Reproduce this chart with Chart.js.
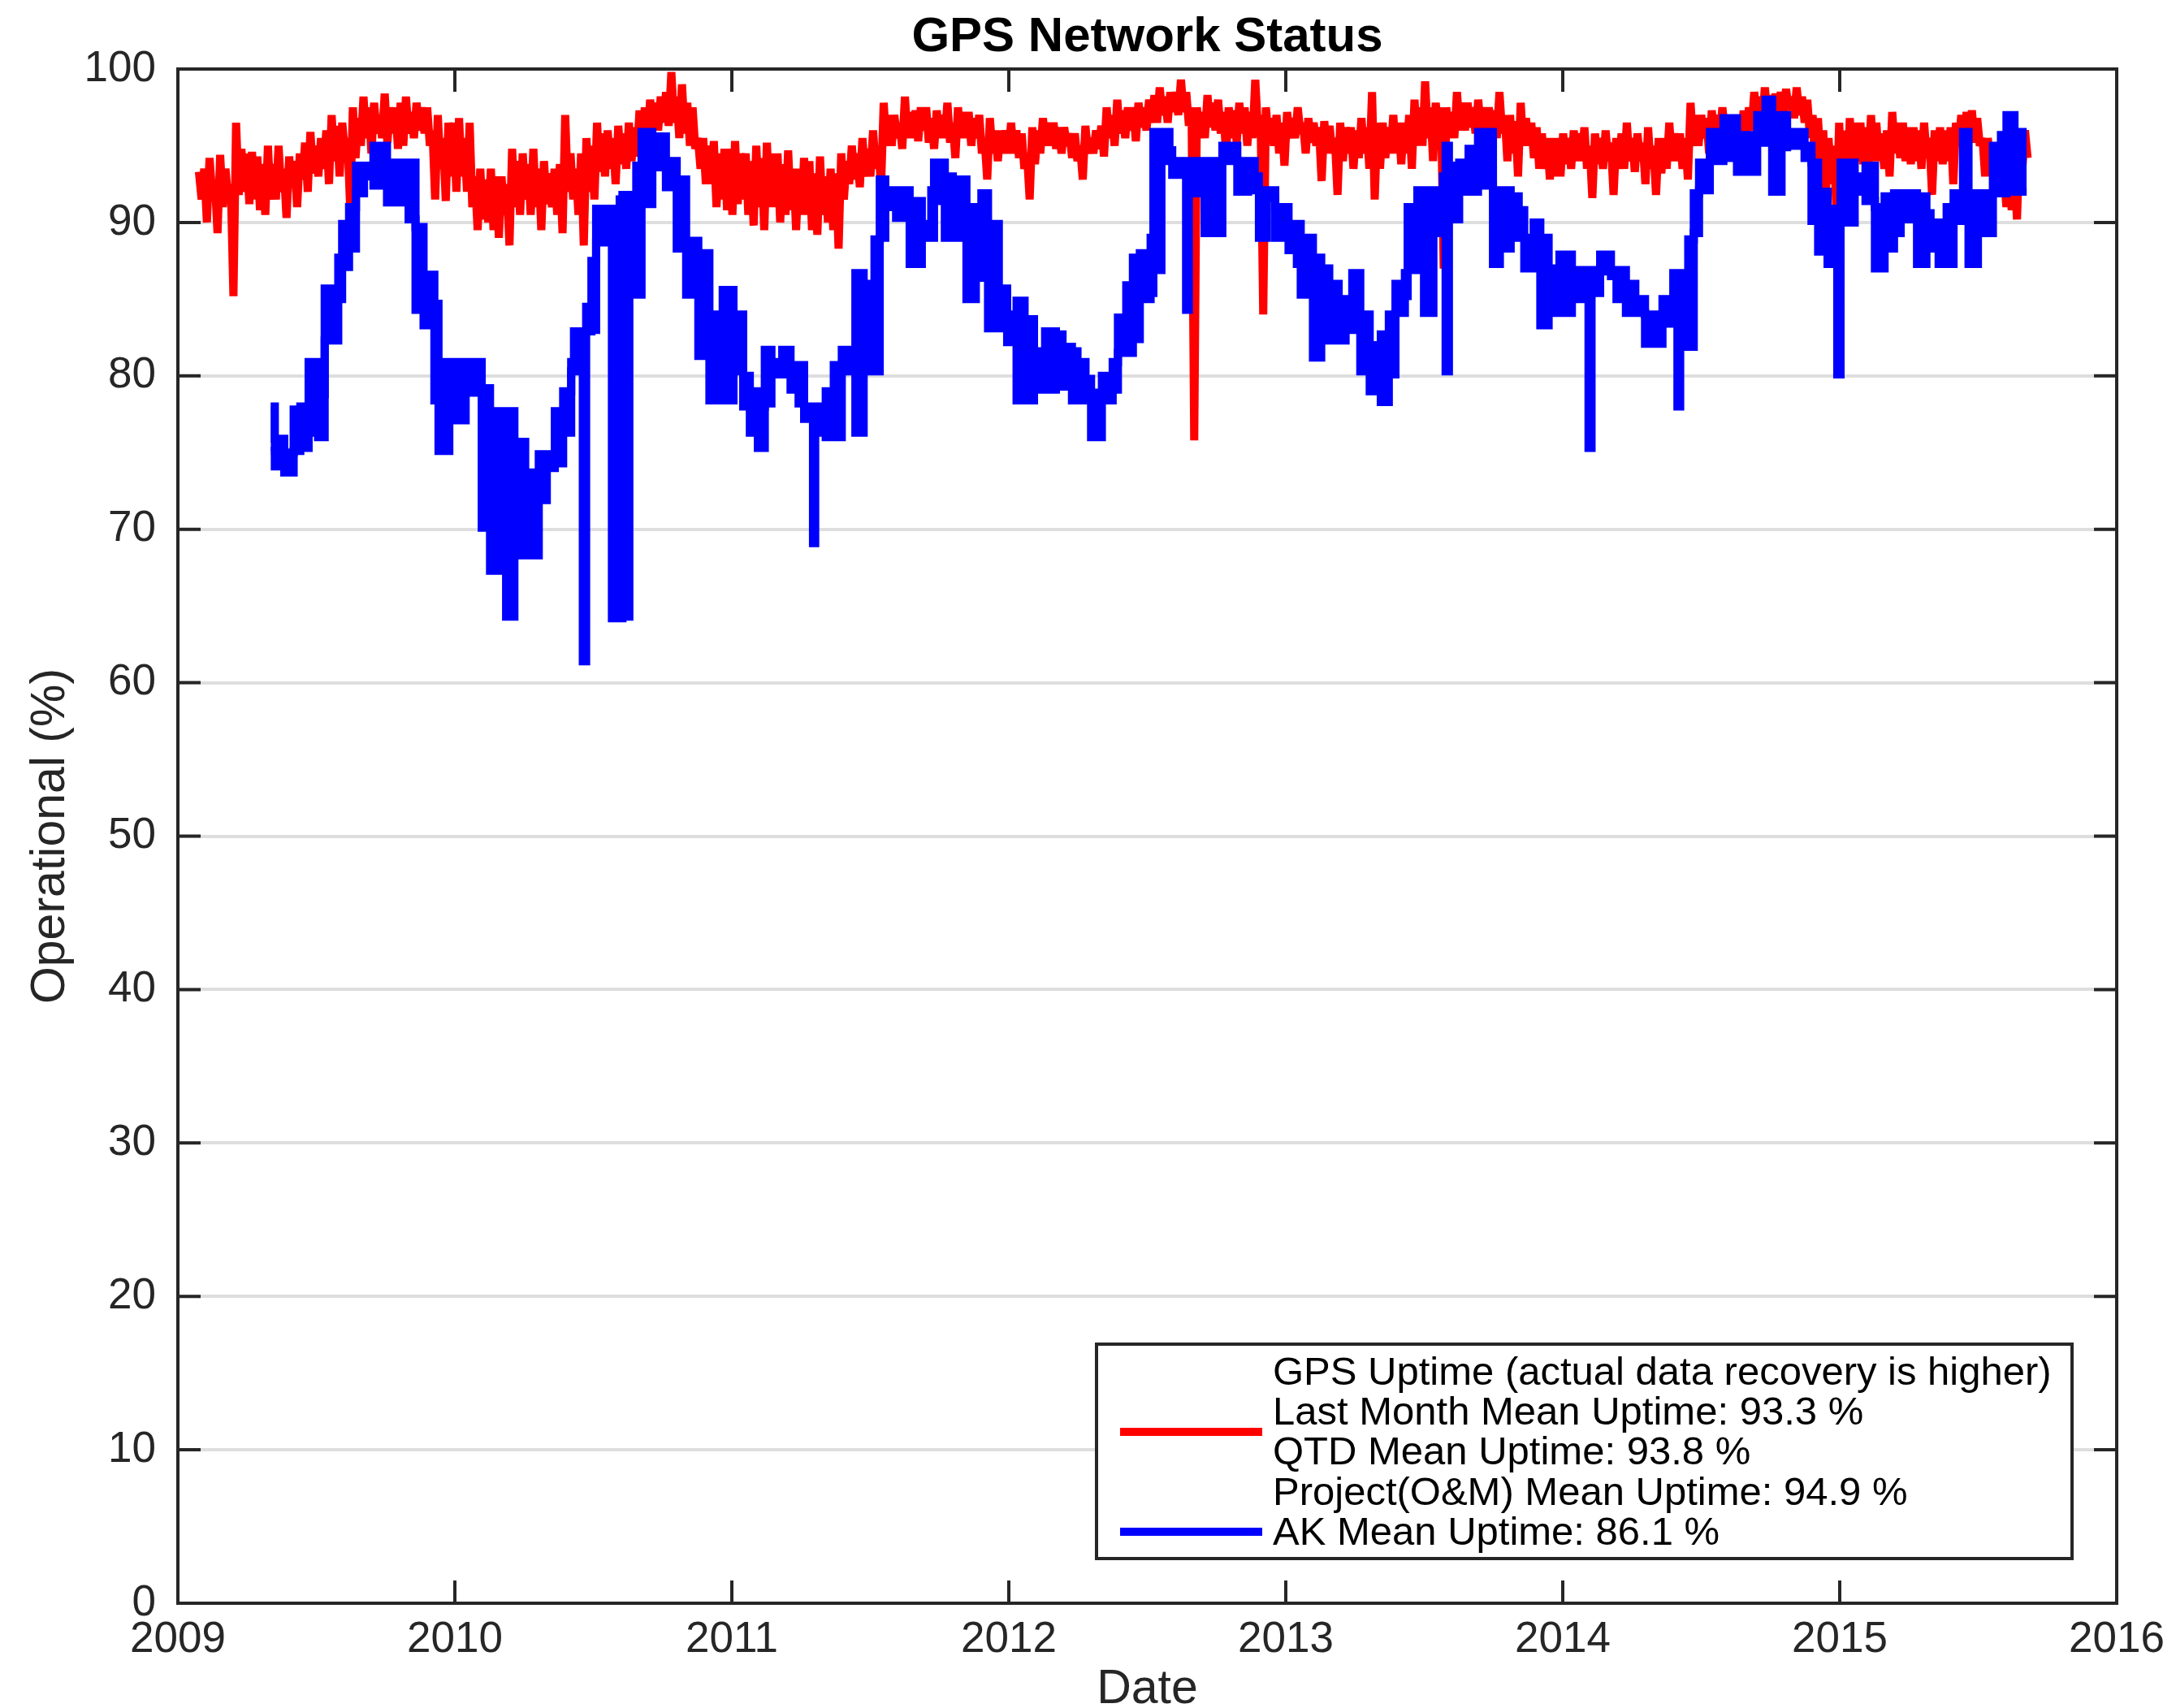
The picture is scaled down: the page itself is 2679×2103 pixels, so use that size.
<!DOCTYPE html>
<html>
<head>
<meta charset="utf-8">
<title>GPS Network Status</title>
<script src="https://cdn.jsdelivr.net/npm/chart.js@4.4.1/dist/chart.umd.min.js"></script>
<style>
  html, body { margin: 0; padding: 0; background: #ffffff; }
  canvas { display: block; }
</style>
</head>
<body>
<canvas id="gpsChart" width="2679" height="2103"></canvas>
<script>
// ---- Axis tick values ----
const yearTicks = [2009, 2010, 2011, 2012, 2013, 2014, 2015, 2016];
const uptimeTicks = [0, 10, 20, 30, 40, 50, 60, 70, 80, 90, 100];

// ---- Network-wide GPS uptime (%), one sample every 3.5 days from gpsStart ----
const gpsStart = 2009.076;          // decimal year of the first sample
const gpsStepDays = 3.5;
const gps2009 = [93.3, 91.5, 93.5, 90, 94.2, 91.8, 92.8, 89.3, 94.4, 91,
  93.5, 91.5, 92.5, 85.2, 96.5, 91.8, 94.8, 92, 94.5, 91.2,
  94.6, 91.5, 94.3, 90.8, 93.8, 90.5, 95, 91.5, 93.8, 91.5,
  95, 92, 93.5, 90.3, 94.3, 92.3, 94, 91, 94.5, 92.8,
  95.2, 92, 95.9, 93.2, 95, 93, 95.5, 93.5, 96, 92.5,
  97, 94, 96.3, 93, 96.5, 94.5, 95.5, 90.8, 97.5, 94.2,
  96.8, 95, 98.2, 95.5, 97.5, 94.5, 97.8, 95.8, 97, 95.5,
  98.4, 95.2, 97.5, 95.8, 97.5, 94.8, 97.8, 95, 98.2, 95.8,
  97.2, 95.5, 97.8, 96, 97.5, 95.8, 97.5, 95, 96, 91.5,
  97, 93.5, 95.5, 91.4, 96.5, 93];
const gps2010 = [96.5, 92, 96.8, 93, 95.5, 92, 96.5, 91, 93, 89.5,
  93.5, 90.2, 92.8, 90, 93.5, 89.5, 93, 89, 93, 90.5,
  92.5, 88.5, 94.8, 91, 94, 90.5, 94.5, 91.5, 93.8, 90.5,
  94.8, 91, 93.5, 89.5, 94, 91.2, 93.2, 91, 93.5, 90.5,
  93.8, 89.3, 97, 92, 94.5, 91.5, 93.5, 90.5, 94.5, 88.5,
  95.5, 92, 95, 91.5, 96.5, 93.3, 95.8, 93, 96, 93.5,
  95.5, 92.5, 96.3, 93.8, 95.8, 93.5, 96.5, 94, 96.2, 94.3,
  97.3, 95, 97.5, 95.5, 98, 96, 97.8, 96, 98.2, 96.5,
  98.5, 96.3, 99.8, 96.5, 98.2, 95.5, 99, 95.8, 97.8, 95,
  97.5, 94.8, 95.5, 93.5, 95.5, 92.5, 95, 92.5, 95.3, 91,
  94.5, 91.5, 94.8, 90.8];
const gps2011 = [94.8, 90.5, 95.3, 91.2, 94.5, 91.5, 94.5, 90.5, 94, 89.8,
  95, 91, 94.2, 89.5, 95.2, 91, 94.5, 91, 94.5, 90,
  93.8, 90.5, 94.7, 90.8, 93.5, 89.5, 93.5, 90.5, 94.2, 90.5,
  94, 89.5, 93.2, 89.2, 94.3, 90.5, 93, 90, 93.5, 89.5,
  93.2, 88.3, 94.5, 91.5, 94, 92.5, 95, 92.8, 94.5, 92.3,
  95.5, 93, 94.8, 93, 96, 93.5, 95, 92.3, 97.8, 95,
  97, 95, 97, 95.5, 96.5, 94.8, 98.2, 95.5, 97.2, 95.5,
  97.3, 95.3, 97.5, 96, 97.5, 95.2, 96.8, 94.8, 97.3, 95.5,
  97, 95.5, 97.8, 95.2, 96.5, 94.2, 97.5, 95.5, 97.2, 95.5,
  97.2, 95, 96.8, 95.5, 97, 94.5, 95.5, 92.8, 96.8, 94.5,
  96, 94, 96, 94.5];
const gps2012 = [96, 94.5, 96.5, 94.5, 96, 94.2, 95.8, 93.5, 94.5, 91.5,
  96.2, 93.8, 96, 94.5, 96.8, 95, 96.5, 95, 96.5, 94.8,
  96.2, 94.5, 96.2, 95, 95.8, 94.2, 95.8, 94, 95, 92.8,
  96.3, 94.5, 95.5, 94.5, 96, 94.8, 96.3, 94.3, 97.5, 95.5,
  97, 95, 98, 95.8, 97.3, 95.5, 97.5, 96, 97.5, 95.3,
  97.8, 96.2, 97.5, 96, 98, 96.5, 98.3, 96.5, 98.8, 97,
  98.2, 96.5, 98.5, 97.2, 98.5, 97, 99.3, 97.2, 98.5, 96.3,
  97.5, 75.8, 97.5, 95.5, 97.2, 95.5, 98.3, 96.2, 97.8, 96,
  98, 95.8, 97.2, 94.5, 97.5, 95.5, 97.3, 95.2, 97.8, 95.8,
  97.5, 95, 97.2, 95.5, 99.3, 96, 97, 84, 97.5, 95.5,
  96.8, 95, 97, 94.5];
const gps2013 = [96.5, 93.7, 97.2, 95.5, 96.8, 95.5, 97.5, 95.8, 96.5, 94.5,
  96.8, 95.2, 96.5, 95, 96.2, 92.7, 96.6, 94.5, 96.3, 94.5,
  95.5, 91.8, 96.5, 94, 96.2, 94.5, 96.2, 93.5, 96, 94.2,
  96.8, 94.5, 96.2, 93.5, 98.5, 91.5, 96.5, 93.5, 96.5, 94.2,
  96.2, 94.5, 97, 94.5, 96.5, 93.8, 96.5, 94.5, 97, 93.5,
  98, 95, 97.5, 95, 99.2, 95.5, 97.5, 94, 97.8, 95.5,
  97.5, 87, 97.5, 95.5, 97.2, 95.5, 98.5, 96, 97.8, 96,
  97.8, 96.2, 97.5, 95.8, 98, 96, 97.5, 96, 97.5, 95.5,
  97.3, 95.5, 98.5, 95.8, 97, 94, 97, 94.5, 96.6, 93,
  97.8, 95, 96.8, 95, 96.5, 94.2, 96.2, 93.5, 95.8, 93.5,
  95.5, 92.8, 95.5, 93];
const gps2014 = [95.5, 93, 95.8, 93.8, 95.5, 93.5, 96, 94, 95.8, 94,
  96.2, 93.5, 95, 91.6, 95.8, 93.8, 95.5, 93.5, 96, 94,
  95.2, 91.8, 95.5, 93.5, 95.8, 93.5, 96.5, 94, 95.5, 93.3,
  95.8, 94, 95.2, 92.5, 96.2, 93.5, 95, 91.8, 95.5, 93.2,
  95.5, 93.5, 96.5, 94, 95.8, 94, 95.8, 93.5, 95.5, 92.8,
  97.8, 95, 97, 95, 97, 95.5, 96.8, 94.5, 97.3, 95.5,
  97, 95.5, 97.5, 95.8, 97, 95, 96.8, 95.5, 97, 95,
  97.3, 95.8, 97.5, 96, 98.5, 96.8, 98.2, 96.5, 98.8, 97,
  98.3, 96.5, 98.4, 97.2, 98.5, 97, 98.7, 97.3, 98.2, 96.8,
  98.8, 97, 98.2, 96.5, 98, 95.5, 97, 93.5, 96.8, 94,
  96, 92, 95.5, 92.5, 95, 90.5];
const gps2015 = [96.5, 92, 96, 91, 96.8, 93.5, 96.5, 94, 96.5, 93.8,
  96.2, 93.5, 97, 94, 96.5, 94, 95.8, 93.5, 96, 93,
  97.2, 94.5, 96.5, 94.2, 96.5, 94, 96.2, 93.8, 96.2, 94,
  96, 93.5, 96.5, 94.2, 95.5, 91.8, 96, 94, 96.2, 93.8,
  96, 94, 96.2, 92.5, 96.5, 95, 97, 95, 97.2, 95.5,
  97.3, 95.2, 96.8, 95, 95.5, 93, 95.5, 93.5, 94.5, 92.5,
  93.8, 92, 93.5, 91, 94, 90.8, 93.5, 90.2, 95.5, 93.5,
  96, 94.2];

// ---- AK uptime (%): daily values swing between a low and a high level;
//      each [low, high] pair holds from its date until the next date ----
const akDates = [
  2009.335, 2009.350, 2009.384, 2009.418, 2009.442, 2009.472, 2009.506, 2009.530, 2009.579, 2009.593,
  2009.618, 2009.643, 2009.672, 2009.706, 2009.755, 2009.833, 2009.858, 2009.887, 2009.926, 2009.941,
  2009.980, 2010.039, 2010.097, 2010.127, 2010.146, 2010.185, 2010.215, 2010.254, 2010.303, 2010.332,
  2010.361, 2010.391, 2010.420, 2010.430, 2010.462, 2010.474, 2010.493, 2010.510, 2010.567, 2010.577,
  2010.595, 2010.605, 2010.620, 2010.630, 2010.655, 2010.674, 2010.713, 2010.762, 2010.801, 2010.835,
  2010.879, 2010.919, 2010.967, 2011.006, 2011.041, 2011.065, 2011.094, 2011.119, 2011.143, 2011.182,
  2011.212, 2011.241, 2011.261, 2011.293, 2011.301, 2011.324, 2011.339, 2011.368, 2011.397, 2011.446,
  2011.476, 2011.495, 2011.515, 2011.534, 2011.554, 2011.593, 2011.642, 2011.686, 2011.720, 2011.730,
  2011.769, 2011.798, 2011.847, 2011.881, 2011.901, 2011.925, 2011.964, 2011.994, 2012.028, 2012.057,
  2012.091, 2012.121, 2012.131, 2012.170, 2012.194, 2012.228, 2012.248, 2012.277, 2012.297, 2012.336,
  2012.375, 2012.394, 2012.424, 2012.448, 2012.473, 2012.512, 2012.522, 2012.551, 2012.580, 2012.590,
  2012.640, 2012.650, 2012.678, 2012.707, 2012.746, 2012.756, 2012.771, 2012.825, 2012.864, 2012.888,
  2012.903, 2012.932, 2012.962, 2013.010, 2013.040, 2013.054, 2013.098, 2013.128, 2013.157, 2013.191,
  2013.216, 2013.240, 2013.269, 2013.303, 2013.343, 2013.372, 2013.396, 2013.430, 2013.440, 2013.475,
  2013.499, 2013.533, 2013.567, 2013.577, 2013.589, 2013.626, 2013.660, 2013.694, 2013.748, 2013.773,
  2013.812, 2013.841, 2013.861, 2013.895, 2013.919, 2013.949, 2013.988, 2014.033, 2014.093, 2014.104,
  2014.135, 2014.174, 2014.194, 2014.228, 2014.262, 2014.297, 2014.360, 2014.399, 2014.414, 2014.424,
  2014.453, 2014.473, 2014.492, 2014.531, 2014.580, 2014.629, 2014.702, 2014.732, 2014.756, 2014.790,
  2014.810, 2014.873, 2014.898, 2014.922, 2014.956, 2014.991, 2015.003, 2015.054, 2015.093, 2015.127,
  2015.162, 2015.196, 2015.220, 2015.279, 2015.313, 2015.328, 2015.357, 2015.386, 2015.411, 2015.445,
  2015.465, 2015.499, 2015.553, 2015.582, 2015.602, 2015.631, 2015.675];
const akLow = [
  75.1, 74.1, 73.7, 75.1, 75.3, 76.3, 76.0, 82.3, 85.0, 87.1,
  88.3, 91.9, 93.0, 92.4, 91.3, 90.2, 84.3, 83.3, 78.4, 75.1,
  77.1, 78.9, 70.1, 67.3, 67.3, 64.3, 68.3, 68.3, 71.9, 74.0,
  74.3, 76.3, 80.3, 80.3, 61.4, 82.9, 83.0, 88.7, 64.2, 89.0,
  64.2, 89.5, 64.3, 85.3, 85.3, 91.2, 93.6, 92.3, 88.3, 85.3,
  81.3, 78.4, 78.4, 80.3, 78.0, 76.3, 75.3, 78.2, 80.1, 80.1,
  79.1, 78.2, 77.2, 69.1, 77.2, 76.3, 76.0, 76.0, 80.3, 76.3,
  84.1, 80.3, 80.3, 89.0, 91.0, 90.3, 87.3, 89.0, 89.0, 91.4,
  89.0, 89.0, 85.0, 87.4, 86.4, 83.1, 83.1, 82.2, 78.4, 78.4,
  79.1, 79.1, 79.1, 79.3, 79.3, 78.4, 78.4, 78.4, 76.0, 78.4,
  79.1, 81.5, 81.5, 82.4, 85.0, 85.4, 86.9, 94.0, 94.0, 93.1,
  84.3, 93.1, 91.9, 89.3, 93.3, 89.3, 94.0, 92.0, 92.6, 92.1,
  89.0, 91.6, 89.0, 88.2, 87.3, 85.3, 81.2, 84.3, 82.3, 82.3,
  83.0, 83.0, 80.3, 79.0, 78.3, 80.1, 84.1, 85.2, 86.9, 90.0,
  84.1, 89.3, 89.3, 80.3, 90.2, 92.0, 92.0, 92.4, 87.3, 88.3,
  89.0, 89.0, 87.0, 88.3, 83.3, 84.1, 84.1, 85.0, 75.3, 85.4,
  86.8, 86.5, 85.0, 84.1, 84.1, 82.1, 83.4, 83.4, 78.0, 85.5,
  81.9, 89.3, 92.1, 94.0, 94.2, 93.3, 95.2, 96.3, 92.0, 94.9,
  95.0, 94.2, 90.1, 88.1, 87.3, 80.1, 90.0, 92.0, 91.4, 87.0,
  88.3, 89.3, 90.2, 87.3, 88.3, 88.3, 87.3, 87.3, 90.1, 91.1,
  87.3, 89.3, 91.9, 91.9, 94.2, 92.0, 92.0];
const akHigh = [
  78.0, 75.9, 75.0, 77.8, 78.0, 80.9, 78.8, 85.7, 87.7, 89.9,
  91.0, 93.7, 93.7, 95.0, 93.9, 93.9, 89.7, 86.6, 84.7, 80.9,
  80.9, 80.9, 79.2, 73.9, 77.7, 77.7, 75.7, 73.7, 74.9, 74.9,
  77.7, 79.0, 80.9, 82.9, 82.9, 84.5, 87.5, 90.9, 89.5, 89.5,
  91.5, 91.8, 91.8, 91.8, 93.7, 95.9, 95.6, 94.0, 92.8, 88.8,
  88.0, 84.0, 85.6, 84.0, 80.0, 79.0, 78.0, 81.7, 80.9, 81.7,
  80.7, 80.7, 78.0, 78.0, 78.0, 78.0, 79.0, 80.7, 81.7, 86.7,
  86.0, 86.0, 88.9, 92.8, 92.1, 92.1, 91.4, 89.9, 92.1, 93.9,
  93.0, 92.8, 91.0, 91.0, 91.9, 89.9, 85.7, 84.0, 84.9, 83.7,
  81.6, 79.8, 82.9, 82.7, 81.9, 81.6, 80.9, 79.8, 78.9, 80.0,
  80.9, 83.8, 85.9, 87.7, 88.0, 89.0, 95.9, 95.9, 94.7, 94.0,
  94.0, 94.0, 94.0, 94.0, 94.0, 94.0, 95.0, 94.0, 94.0, 93.0,
  92.1, 92.1, 91.0, 89.9, 89.9, 89.0, 87.7, 87.0, 86.0, 85.0,
  84.7, 86.7, 84.0, 82.0, 82.7, 84.0, 86.0, 86.7, 91.0, 92.1,
  92.1, 92.1, 93.0, 95.0, 93.7, 93.9, 94.8, 95.9, 92.1, 92.1,
  91.7, 90.8, 89.0, 90.0, 89.0, 87.0, 87.9, 86.9, 85.4, 86.9,
  87.9, 86.9, 86.9, 86.0, 85.0, 84.0, 85.0, 86.7, 86.7, 86.7,
  88.9, 91.9, 93.9, 95.9, 96.8, 95.7, 97.0, 98.0, 97.0, 97.0,
  95.9, 95.0, 93.9, 92.0, 90.9, 90.0, 93.9, 93.0, 93.7, 91.0,
  91.7, 91.9, 91.9, 91.7, 90.6, 90.0, 90.0, 91.0, 91.9, 95.9,
  91.9, 91.9, 95.0, 95.7, 97.0, 95.9, 95.9];

// ---- Legend text ----
const legendGpsLines = [
  'GPS Uptime (actual data recovery is higher)',
  'Last Month Mean Uptime: 93.3 %',
  'QTD Mean Uptime: 93.8 %',
  'Project(O&M) Mean Uptime: 94.9 %'
];
const legendAkLines = ['AK Mean Uptime: 86.1 %'];

// ---- Text ----
const chartTitle = 'GPS Network Status';
const xTitle = 'Date';
const yTitle = 'Operational (%)';

// ---- Styling ----
const FONT = '"Liberation Sans", Arial, Helvetica, sans-serif';
const INK = '#262626';
const GPS_RED = '#ff0000';
const AK_BLUE = '#0000ff';

const gpsUptime = [].concat(gps2009, gps2010, gps2011, gps2012, gps2013, gps2014, gps2015);
const gpsPoints = gpsUptime.map((v, i) => ({ x: gpsStart + i * gpsStepDays / 365.25, y: v }));
const akLowPoints = akDates.map((d, i) => ({ x: d, y: akLow[i] }));
const akHighPoints = akDates.map((d, i) => ({ x: d, y: akHigh[i] }));

// Box, inward tick marks, title, axis titles and legend, drawn MATLAB-style
const axesDecor = {
  id: 'axesDecor',
  beforeDatasetsDraw(chart) {
    // keep the sharp zig-zag joins of the daily line from overshooting
    chart.ctx.miterLimit = 3;
  },
  afterDatasetsDraw(chart) {
    const { ctx, chartArea: a, scales: { x, y } } = chart;
    const tickLen = 28;
    ctx.miterLimit = 10;
    ctx.save();
    ctx.strokeStyle = INK;
    ctx.lineWidth = 4;
    ctx.lineCap = 'butt';
    ctx.beginPath();
    yearTicks.forEach(v => {
      const px = x.getPixelForValue(v);
      ctx.moveTo(px, a.bottom); ctx.lineTo(px, a.bottom - tickLen);
      ctx.moveTo(px, a.top); ctx.lineTo(px, a.top + tickLen);
    });
    uptimeTicks.forEach(v => {
      const py = y.getPixelForValue(v);
      ctx.moveTo(a.left, py); ctx.lineTo(a.left + tickLen, py);
      ctx.moveTo(a.right, py); ctx.lineTo(a.right - tickLen, py);
    });
    ctx.stroke();
    ctx.lineJoin = 'miter';
    ctx.strokeRect(a.left, a.top, a.right - a.left, a.bottom - a.top);
    ctx.restore();
  },
  afterDraw(chart) {
    const { ctx, chartArea: a } = chart;
    const cx = (a.left + a.right) / 2;
    ctx.save();

    // title
    ctx.fillStyle = '#000000';
    ctx.font = 'bold 60px ' + FONT;
    ctx.textAlign = 'center';
    ctx.textBaseline = 'alphabetic';
    ctx.fillText(chartTitle, cx, 63);

    // axis titles
    ctx.fillStyle = INK;
    ctx.font = '59px ' + FONT;
    ctx.fillText(xTitle, cx, 2097);
    ctx.save();
    ctx.translate(79, (a.top + a.bottom) / 2);
    ctx.rotate(-Math.PI / 2);
    ctx.fillText(yTitle, 0, 0);
    ctx.restore();

    // legend
    const box = { left: 1350, top: 1655, right: 2551, bottom: 1919 };
    ctx.fillStyle = '#ffffff';
    ctx.fillRect(box.left, box.top, box.right - box.left, box.bottom - box.top);
    ctx.strokeStyle = INK;
    ctx.lineWidth = 4;
    ctx.strokeRect(box.left, box.top, box.right - box.left, box.bottom - box.top);

    const textX = 1567;
    const firstBaseline = 1705;
    const lineStep = 49.2;
    ctx.lineWidth = 10;
    ctx.lineCap = 'butt';
    ctx.strokeStyle = GPS_RED;
    ctx.beginPath(); ctx.moveTo(1379, 1763); ctx.lineTo(1554, 1763); ctx.stroke();
    ctx.strokeStyle = AK_BLUE;
    ctx.beginPath(); ctx.moveTo(1379, 1886); ctx.lineTo(1554, 1886); ctx.stroke();

    ctx.fillStyle = '#000000';
    ctx.font = '49px ' + FONT;
    ctx.textAlign = 'left';
    legendGpsLines.concat(legendAkLines).forEach((t, i) => {
      ctx.fillText(t, textX, firstBaseline + i * lineStep);
    });
    ctx.restore();
  }
};

const akStyle = {
  borderColor: AK_BLUE,
  backgroundColor: AK_BLUE,
  borderWidth: 10,
  borderJoinStyle: 'miter',
  borderCapStyle: 'butt',
  stepped: 'before',
  pointRadius: 0,
  tension: 0
};

new Chart(document.getElementById('gpsChart'), {
  type: 'line',
  data: {
    datasets: [
      {
        label: 'GPS Uptime',
        data: gpsPoints,
        borderColor: GPS_RED,
        backgroundColor: GPS_RED,
        borderWidth: 10,
        borderJoinStyle: 'miter',
        borderCapStyle: 'butt',
        pointRadius: 0,
        tension: 0,
        fill: false,
        order: 3
      },
      Object.assign({ label: 'AK Uptime (low)', data: akLowPoints, fill: false, order: 2 }, akStyle),
      Object.assign({ label: 'AK Uptime (high)', data: akHighPoints, fill: '-1', order: 1 }, akStyle)
    ]
  },
  options: {
    responsive: false,
    animation: false,
    devicePixelRatio: 1,
    layout: { padding: { top: 85, right: 73, bottom: 0, left: 0 } },
    plugins: {
      legend: { display: false },
      title: { display: false },
      tooltip: { enabled: false }
    },
    scales: {
      x: {
        type: 'linear',
        min: yearTicks[0],
        max: yearTicks[yearTicks.length - 1],
        afterBuildTicks: s => { s.ticks = yearTicks.map(v => ({ value: v })); },
        afterFit: s => { s.height = 129; },
        grid: { display: false, drawTicks: false },
        border: { display: false },
        ticks: {
          color: INK,
          font: { family: FONT, size: 53 },
          padding: 14,
          maxRotation: 0,
          autoSkip: false,
          callback: v => String(v)
        }
      },
      y: {
        type: 'linear',
        min: uptimeTicks[0],
        max: uptimeTicks[uptimeTicks.length - 1],
        afterBuildTicks: s => { s.ticks = uptimeTicks.map(v => ({ value: v })); },
        afterFit: s => { s.width = 219; },
        grid: { color: '#dedede', lineWidth: 4, drawTicks: false },
        border: { display: false },
        ticks: {
          color: INK,
          font: { family: FONT, size: 53 },
          padding: 27,
          callback: v => String(v)
        }
      }
    }
  },
  plugins: [axesDecor]
});
</script>
</body>
</html>
